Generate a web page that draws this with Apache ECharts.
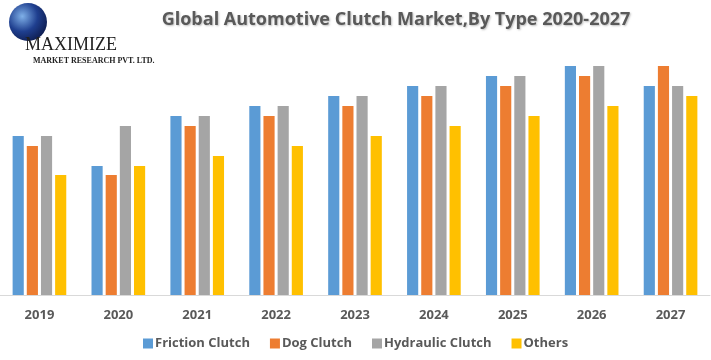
<!DOCTYPE html>
<html><head><meta charset="utf-8">
<script src="https://cdn.jsdelivr.net/npm/echarts@6/dist/echarts.min.js"></script>
<style>html,body{margin:0;padding:0;background:#fff}#c{width:711px;height:360px}</style>
</head><body><div id="c"></div>
<script>
const categories = ['2019','2020','2021','2022','2023','2024','2025','2026','2027'];
const frictionClutch = [15.9,12.9,17.9,18.9,19.9,20.9,21.9,22.9,20.9];
const dogClutch      = [14.9,12.0,16.9,17.9,18.9,19.9,20.9,21.9,22.9];
const hydraulicClutch= [15.9,16.9,17.9,18.9,19.9,20.9,21.9,22.9,20.9];
const others         = [12.0,12.9,13.9,14.9,15.9,16.9,17.9,18.9,19.9];
const seriesNames = ['Friction Clutch','Dog Clutch','Hydraulic Clutch','Others'];
const colors = ['#5B9BD5','#ED7D31','#A5A5A5','#FFC000'];
const FONT = 'Open Sans';
const chart = echarts.init(document.getElementById('c'));
const data = [frictionClutch, dogClutch, hydraulicClutch, others];
chart.setOption({
  animation:false,
  color:colors,
  title:{text:'Global Automotive Clutch Market,By Type 2020-2027',left:391,top:6,textAlign:'center',
    textStyle:{fontFamily:FONT,fontWeight:'bold',fontSize:18,color:'#595959',textShadowColor:'rgba(0,0,0,0.25)',textShadowBlur:2,textShadowOffsetX:1,textShadowOffsetY:1}},
  legend:{bottom:5,left:138,itemWidth:10,itemHeight:10,itemGap:20,icon:'rect',
    textStyle:{fontFamily:FONT,fontWeight:'bold',fontSize:13,color:'#595959',padding:[0,0,0,-3]},
    data:seriesNames},
  grid:{left:-4,right:1,top:45,bottom:65,containLabel:false},
  xAxis:{type:'category',data:categories,
    axisLine:{lineStyle:{color:'#D9D9D9',width:1}},axisTick:{show:false},
    axisLabel:{fontFamily:FONT,fontWeight:'bold',fontSize:13,color:'#595959',margin:14}},
  yAxis:{type:'value',min:0,max:25,show:false,splitLine:{show:false}},
  series:seriesNames.map((n,i)=>({name:n,type:'bar',data:data[i],barGap:'27%',barCategoryGap:'32%'})),
  graphic:[
    {type:'circle',shape:{cx:28,cy:22,r:19},style:{fill:new echarts.graphic.RadialGradient(0.35,0.35,0.8,[{offset:0,color:'#7fb0e8'},{offset:0.5,color:'#1f3f8f'},{offset:1,color:'#0a1440'}])}},
    {type:'text',left:25,top:36,style:{text:'MAXIMIZE',fontFamily:'Liberation Serif',fontSize:18,fill:'#222'}},
    {type:'text',left:33,top:57,style:{text:'MARKET RESEARCH PVT. LTD.',fontFamily:'Liberation Serif',fontWeight:'bold',fontSize:8,fill:'#222'}}
  ]
});
</script></body></html>
